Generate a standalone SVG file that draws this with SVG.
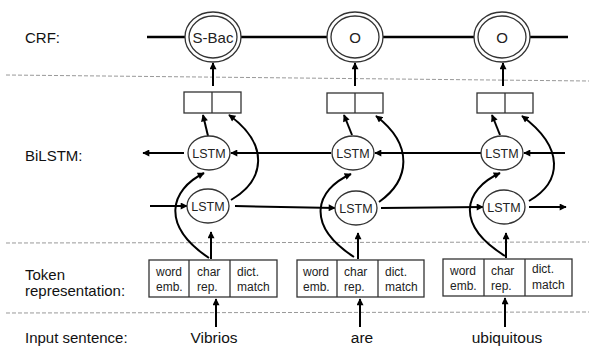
<svg xmlns="http://www.w3.org/2000/svg" width="589" height="347" viewBox="0 0 589 347">
<defs>
<marker id="ah" viewBox="0 0 10 10" refX="9" refY="5" markerWidth="8" markerHeight="7" orient="auto" markerUnits="userSpaceOnUse"><path d="M0,0 L10,5 L0,10 z" fill="#000"/></marker>
<style>
.lbl{font-family:"Liberation Sans",Arial,sans-serif;font-size:15px;fill:#111}
.word{font-family:"Liberation Sans",Arial,sans-serif;font-size:15.5px;fill:#111;text-anchor:middle}
.cell{font-family:"Liberation Sans",Arial,sans-serif;font-size:12px;fill:#222}
.node{font-family:"Liberation Sans",Arial,sans-serif;fill:#222;text-anchor:middle}
.shape{fill:#fff;stroke:#333;stroke-width:1.3}
.dash{stroke:#999;stroke-width:1;stroke-dasharray:4 2;fill:none}
.ln{stroke:#000;stroke-width:2;fill:none}
.arr{stroke:#000;stroke-width:2;fill:none;marker-end:url(#ah)}
.crf{stroke:#000;stroke-width:2.5;fill:none}
</style>
</defs>
<rect width="589" height="347" fill="#fff"/>

<g id="separators">
<line class="dash" x1="6" y1="75" x2="589" y2="81"/>
<line class="dash" x1="6" y1="243" x2="589" y2="242"/>
<line class="dash" x1="6" y1="313" x2="589" y2="312"/>
</g>

<g id="layer-labels">
<text class="lbl" x="25" y="43">CRF:</text>
<text class="lbl" x="25" y="161">BiLSTM:</text>
<text class="lbl" x="25" y="280">Token</text>
<text class="lbl" x="25" y="296">representation:</text>
<text class="lbl" x="25" y="343">Input sentence:</text>
</g>

<g id="connectors">
<!-- CRF chain -->
<line class="crf" x1="147" y1="37" x2="185" y2="37"/>
<line class="crf" x1="241" y1="37" x2="327" y2="37"/>
<line class="crf" x1="383" y1="37" x2="474" y2="37"/>
<line class="crf" x1="530" y1="37" x2="568" y2="37"/>
<!-- output box to CRF -->
<line class="arr" x1="213" y1="86" x2="213" y2="63"/>
<line class="arr" x1="355" y1="86" x2="355" y2="63"/>
<line class="arr" x1="503" y1="86" x2="503" y2="63"/>
<!-- backward LSTM row -->
<line class="arr" x1="565" y1="153" x2="524" y2="153"/>
<line class="arr" x1="482" y1="153" x2="375" y2="153"/>
<line class="arr" x1="331" y1="153" x2="231" y2="153"/>
<line class="arr" x1="184" y1="153" x2="143" y2="153"/>
<!-- forward LSTM row -->
<line class="arr" x1="150" y1="206" x2="187" y2="206"/>
<line class="arr" x1="235" y1="206" x2="335" y2="208"/>
<line class="arr" x1="381" y1="208" x2="483" y2="207"/>
<line class="arr" x1="529" y1="207" x2="566" y2="207"/>
<!-- token rep to forward LSTM -->
<line class="arr" x1="211" y1="259" x2="211" y2="232"/>
<line class="arr" x1="358" y1="259" x2="358" y2="233"/>
<line class="arr" x1="506" y1="258" x2="506" y2="233"/>
<!-- words to token rep -->
<line class="arr" x1="216" y1="327" x2="216" y2="299"/>
<line class="arr" x1="360" y1="327" x2="360" y2="299"/>
<line class="arr" x1="505" y1="327" x2="505" y2="298"/>
<!-- column 1 curves -->
<path class="arr" d="M209 258 C160 225 170 190 204 173"/>
<path class="arr" d="M231 200 C265 180 270 145 229 115"/>
<line class="arr" x1="208" y1="136" x2="203" y2="115"/>
<!-- column 2 curves -->
<path class="arr" d="M354 257 C305 225 315 190 351 174"/>
<path class="arr" d="M379 202 C410 180 414 145 376 116"/>
<line class="arr" x1="352" y1="135" x2="344" y2="115"/>
<!-- column 3 curves -->
<path class="arr" d="M505 256 C455 225 463 190 500 173"/>
<path class="arr" d="M529 201 C562 182 565 148 522 116"/>
<line class="arr" x1="500" y1="135" x2="492" y2="115"/>
</g>

<g id="crf-1">
<ellipse class="shape" cx="213" cy="37" rx="28" ry="25"/>
<ellipse class="shape" cx="213" cy="37" rx="24" ry="21"/>
<text class="node" x="213" y="42.5" font-size="15">S-Bac</text>
</g>
<g id="crf-2">
<ellipse class="shape" cx="355" cy="37" rx="28" ry="25"/>
<ellipse class="shape" cx="355" cy="37" rx="24" ry="21"/>
<text class="node" x="355" y="42.5" font-size="15">O</text>
</g>
<g id="crf-3">
<ellipse class="shape" cx="502" cy="37" rx="28" ry="25"/>
<ellipse class="shape" cx="502" cy="37" rx="24" ry="21"/>
<text class="node" x="502" y="42.5" font-size="15">O</text>
</g>

<g id="out-1">
<rect class="shape" x="184" y="92" width="57" height="21"/>
<line class="shape" x1="212" y1="92" x2="212" y2="113"/>
</g>
<g id="out-2">
<rect class="shape" x="327" y="93" width="56" height="20"/>
<line class="shape" x1="355" y1="93" x2="355" y2="113"/>
</g>
<g id="out-3">
<rect class="shape" x="477" y="93" width="56" height="20"/>
<line class="shape" x1="505" y1="93" x2="505" y2="113"/>
</g>

<g id="lstm-b-1"><ellipse class="shape" cx="209" cy="153" rx="21" ry="17"/><text class="node" x="209" y="157.5" font-size="12.5">LSTM</text></g>
<g id="lstm-b-2"><ellipse class="shape" cx="353" cy="153" rx="21" ry="17"/><text class="node" x="353" y="157.5" font-size="12.5">LSTM</text></g>
<g id="lstm-b-3"><ellipse class="shape" cx="502" cy="153" rx="21" ry="17"/><text class="node" x="502" y="157.5" font-size="12.5">LSTM</text></g>
<g id="lstm-f-1"><ellipse class="shape" cx="208" cy="206" rx="21" ry="17"/><text class="node" x="208" y="210.5" font-size="12.5">LSTM</text></g>
<g id="lstm-f-2"><ellipse class="shape" cx="356" cy="208" rx="21" ry="17"/><text class="node" x="356" y="212.5" font-size="12.5">LSTM</text></g>
<g id="lstm-f-3"><ellipse class="shape" cx="504" cy="207" rx="21" ry="17"/><text class="node" x="504" y="211.5" font-size="12.5">LSTM</text></g>

<g id="token-1">
<rect class="shape" x="149" y="260" width="128" height="37"/>
<line class="shape" x1="189" y1="260" x2="189" y2="297"/>
<line class="shape" x1="230" y1="260" x2="230" y2="297"/>
<text class="cell" x="156" y="276">word</text><text class="cell" x="156" y="291">emb.</text>
<text class="cell" x="197" y="276">char</text><text class="cell" x="197" y="291">rep.</text>
<text class="cell" x="237" y="276">dict.</text><text class="cell" x="237" y="291">match</text>
</g>
<g id="token-2">
<rect class="shape" x="297" y="260" width="127" height="37"/>
<line class="shape" x1="337" y1="260" x2="337" y2="297"/>
<line class="shape" x1="378" y1="260" x2="378" y2="297"/>
<text class="cell" x="303" y="276">word</text><text class="cell" x="303" y="291">emb.</text>
<text class="cell" x="344" y="276">char</text><text class="cell" x="344" y="291">rep.</text>
<text class="cell" x="385" y="276">dict.</text><text class="cell" x="385" y="291">match</text>
</g>
<g id="token-3">
<rect class="shape" x="443" y="259" width="129" height="37"/>
<line class="shape" x1="484" y1="259" x2="484" y2="296"/>
<line class="shape" x1="525" y1="259" x2="525" y2="296"/>
<text class="cell" x="450" y="275">word</text><text class="cell" x="450" y="290">emb.</text>
<text class="cell" x="491" y="275">char</text><text class="cell" x="491" y="290">rep.</text>
<text class="cell" x="532" y="273">dict.</text><text class="cell" x="532" y="289">match</text>
</g>

<g id="words">
<text class="word" x="214" y="343">Vibrios</text>
<text class="word" x="362" y="343">are</text>
<text class="word" x="507" y="343">ubiquitous</text>
</g>
</svg>
